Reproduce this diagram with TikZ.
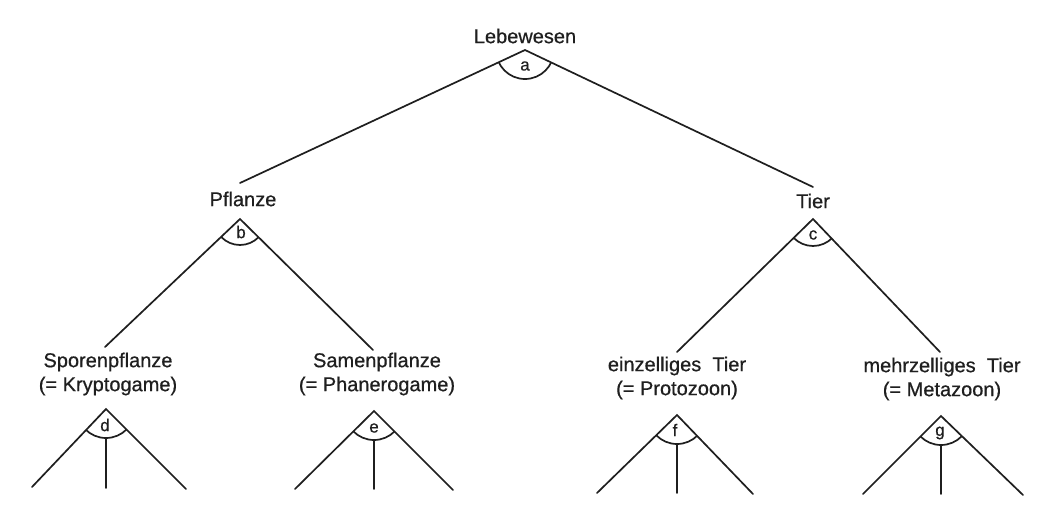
\documentclass[tikz,border=0pt]{standalone}
\usepackage{fontspec}
\setmainfont{Liberation Sans}
\newfontfamily\heavyfont{Liberation Sans}[FakeBold=0.6]
\usetikzlibrary{calc}
\definecolor{ink}{gray}{0.12}
\begin{document}
\begin{tikzpicture}[x=1pt,y=-1pt,
  lbl/.style={inner sep=0pt, font=\heavyfont\fontsize{20}{24}\selectfont, text=ink, align=center},
  ltr/.style={inner sep=0pt, font=\heavyfont\fontsize{17}{20}\selectfont, text=ink},
  ln/.style={draw=ink, line width=1.7pt, line cap=round}]
\fill[white] (0,0) rectangle (1039,514);
\useasboundingbox (0,0) rectangle (1039,514);

% ---- level 0
\node[lbl] (leb) at (525,36) {Lebewesen};
\coordinate (a) at (525,50);
% ---- level 1
\node[lbl] (pfl) at (243,199) {Pflanze};
\coordinate (b) at (240,219);
\node[lbl] (tier) at (813,201) {Tier};
\coordinate (c) at (813,219);
\coordinate (aL) at (240,183);
\coordinate (aR) at (813,187);
% ---- level 2
\node[lbl] (spor) at (108,374) {Sporenpflanze\\(= Kryptogame)};
\coordinate (d) at (106,409);
\node[lbl] (samen) at (377,374) {Samenpflanze\\(= Phanerogame)};
\coordinate (e) at (374,411);
\node[lbl] (einz) at (677,378) {einzelliges\ \ Tier\\(= Protozoon)};
\coordinate (f) at (677,415);
\node[lbl] (mehr) at (942,379) {mehrzelliges\ \ Tier\\(= Metazoon)};
\coordinate (g) at (941,416);
\coordinate (bL) at (105,347);
\coordinate (bR) at (373,350);
\coordinate (cL) at (677,352);
\coordinate (cR) at (940,352);
% ---- leaves
\coordinate (dL) at (32,487);  \coordinate (dR) at (186,489); \coordinate (dM) at (106,488);
\coordinate (eL) at (295,489); \coordinate (eR) at (453,490); \coordinate (eM) at (374,489);
\coordinate (fL) at (597,493); \coordinate (fR) at (753,494); \coordinate (fM) at (677,493);
\coordinate (gL) at (863,494); \coordinate (gR) at (1023,495); \coordinate (gM) at (941,494);

% ---- connectors
\draw[ln] (aL) -- (a) -- (aR);
\draw[ln] (bL) -- (b) -- (bR);
\draw[ln] (cL) -- (c) -- (cR);
\draw[ln] (dL) -- (d) -- (dR);
\draw[ln] (eL) -- (e) -- (eR);
\draw[ln] (fL) -- (f) -- (fR);
\draw[ln] (gL) -- (g) -- (gR);
\draw[ln] ($(d)+(0,29)$) -- (dM);
\draw[ln] ($(e)+(0,29)$) -- (eM);
\draw[ln] ($(f)+(0,29)$) -- (fM);
\draw[ln] ($(g)+(0,29)$) -- (gM);

% ---- angle arcs
\begin{scope}\clip (aL) -- (a) -- (aR) -- cycle; \draw[ln] (a) circle (29pt);\end{scope}
\begin{scope}\clip (bL) -- (b) -- (bR) -- cycle; \draw[ln] (b) circle (26pt);\end{scope}
\begin{scope}\clip (cL) -- (c) -- (cR) -- cycle; \draw[ln] (c) circle (27pt);\end{scope}
\begin{scope}\clip (dL) -- (d) -- (dR) -- cycle; \draw[ln] (d) circle (29pt);\end{scope}
\begin{scope}\clip (eL) -- (e) -- (eR) -- cycle; \draw[ln] (e) circle (29pt);\end{scope}
\begin{scope}\clip (fL) -- (f) -- (fR) -- cycle; \draw[ln] (f) circle (29pt);\end{scope}
\begin{scope}\clip (gL) -- (g) -- (gR) -- cycle; \draw[ln] (g) circle (29pt);\end{scope}

% ---- angle letters
\node[ltr] (la) at (525,66) {a};
\node[ltr] (lb) at (241,232) {b};
\node[ltr] (lc) at (813,235) {c};
\node[ltr] (ld) at (105,425) {d};
\node[ltr] (le) at (374,428) {e};
\node[ltr] (lf) at (675,430) {f};
\node[ltr] (lg) at (940,433) {g};
\end{tikzpicture}
\end{document}
